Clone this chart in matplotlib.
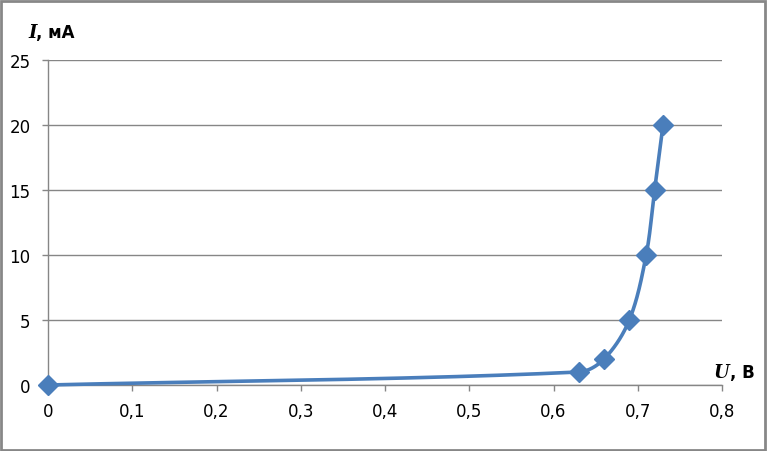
import matplotlib.pyplot as plt
import numpy as np
from matplotlib.patches import Rectangle

# data
voltage = [0.0, 0.63, 0.66, 0.69, 0.71, 0.72, 0.73]
current = [0, 1, 2, 5, 10, 15, 20]
x_ticks = [0, 0.1, 0.2, 0.3, 0.4, 0.5, 0.6, 0.7, 0.8]
y_ticks = [0, 5, 10, 15, 20, 25]

blue = '#4A7EBB'
grey = '#868686'


def fmt(v):
    s = ('%g' % v).replace('.', ',')
    return s


def smooth_curve(ax, xs, ys, n=40):
    # Excel-like smoothed line: cubic Bezier through points, done in pixel space,
    # control arms scaled by the segment length so long segments do not overshoot
    fig = ax.figure
    bb = ax.get_window_extent(fig.canvas.get_renderer())
    x0, x1 = ax.get_xlim()
    y0, y1 = ax.get_ylim()
    px = (np.asarray(xs) - x0) / (x1 - x0) * bb.width
    py = (np.asarray(ys) - y0) / (y1 - y0) * bb.height
    P = np.column_stack([px, py])
    k = len(P)
    tang = []
    for i in range(k):
        a = P[max(i - 1, 0)]
        b = P[min(i + 1, k - 1)]
        d = b - a
        tang.append(d / np.linalg.norm(d))
    out = [P[0]]
    for i in range(k - 1):
        p1, p2 = P[i], P[i + 1]
        L = np.linalg.norm(p2 - p1)
        c1 = p1 + tang[i] * L * 0.33
        c2 = p2 - tang[i + 1] * L * 0.33
        t = np.linspace(0, 1, n)[1:, None]
        seg = ((1 - t) ** 3) * p1 + 3 * ((1 - t) ** 2) * t * c1 + 3 * (1 - t) * t ** 2 * c2 + t ** 3 * p2
        out.extend(seg)
    out = np.array(out)
    cx = out[:, 0] / bb.width * (x1 - x0) + x0
    cy = out[:, 1] / bb.height * (y1 - y0) + y0
    return cx, cy


fig = plt.figure(figsize=(7.67, 4.52), dpi=100)
ax = fig.add_axes([48 / 767, 66 / 452, 674 / 767, 325 / 452])

ax.set_xlim(0, 0.8)
ax.set_ylim(0, 25)
ax.set_xticks(x_ticks)
ax.set_yticks(y_ticks)
ax.set_xticklabels([fmt(v) for v in x_ticks])
ax.set_yticklabels([fmt(v) for v in y_ticks])

for s in ['top', 'right']:
    ax.spines[s].set_visible(False)
for s in ['left', 'bottom']:
    ax.spines[s].set_color(grey)
    ax.spines[s].set_linewidth(1.0)

ax.yaxis.grid(True, color=grey, linewidth=1.0)
ax.set_axisbelow(True)
ax.tick_params(axis='both', colors=grey, labelcolor='black', labelsize=12,
               length=4.5, width=1.0)
ax.tick_params(axis='y', pad=8)
ax.tick_params(axis='x', pad=8)

cx, cy = smooth_curve(ax, voltage, current)
ax.plot(cx, cy, color=blue, linewidth=2.6, solid_capstyle='round', zorder=3, clip_on=False)
ax.plot(voltage, current, linestyle='none', marker='D', markersize=10,
        color=blue, zorder=4, clip_on=False)

# axis labels
t1 = fig.text(28 / 767, 1 - 38 / 452, 'I', family='DejaVu Serif', weight='bold',
              style='italic', fontsize=13, va='baseline')
ax.annotate(', мА', xy=(1, 0), xycoords=t1, va='bottom', ha='left',
            fontsize=12, weight='bold', family='DejaVu Sans')
t2 = fig.text(714 / 767, 1 - 378 / 452, 'U', family='DejaVu Serif', weight='bold',
              style='italic', fontsize=13, va='baseline')
ax.annotate(', В', xy=(1, 0), xycoords=t2, va='bottom', ha='left',
            fontsize=12, weight='bold', family='DejaVu Sans')

# outer chart frame
fig.patches.append(Rectangle((0.0015, 0.0025), 0.996, 0.994, transform=fig.transFigure,
                             fill=False, edgecolor='#878787', linewidth=2.0))

fig.savefig('out.png', dpi=100)
